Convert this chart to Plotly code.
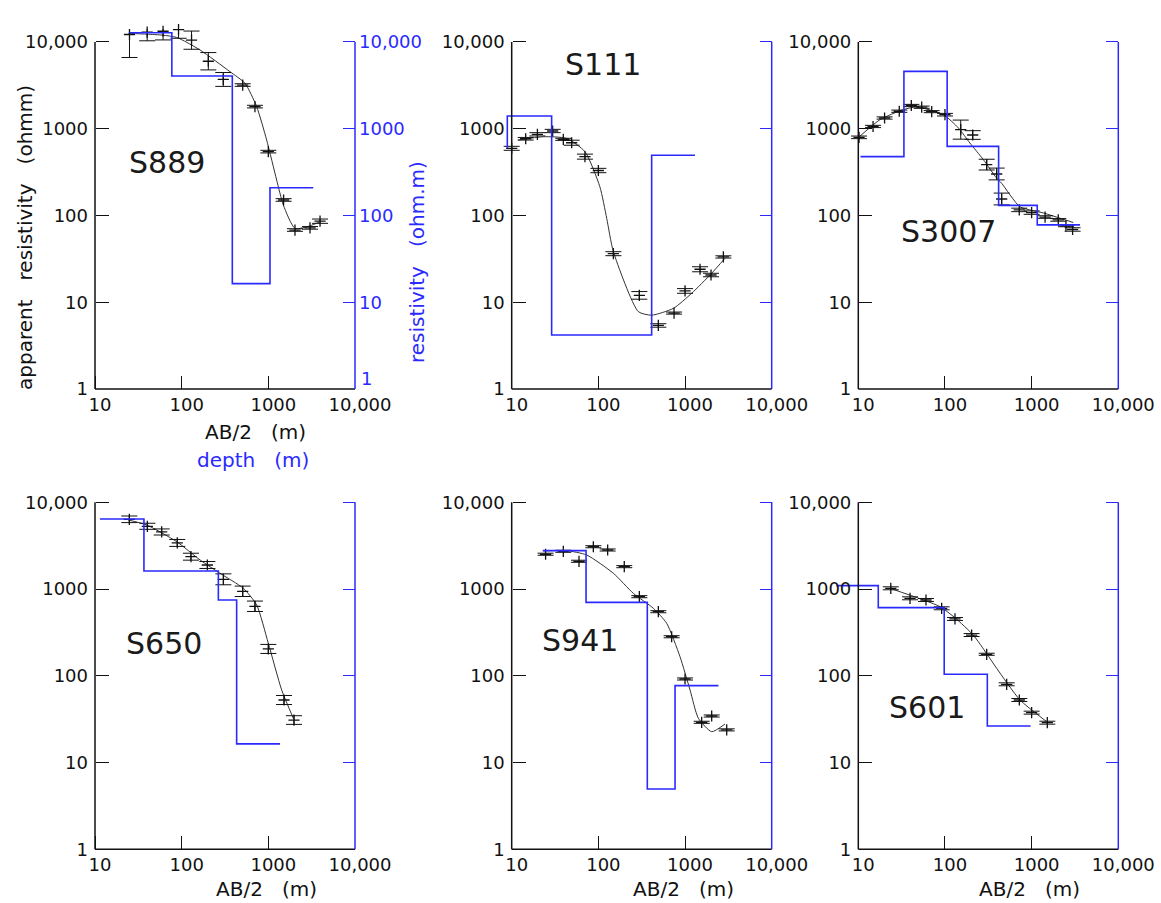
import plotly.graph_objects as go

# ---------------- data ----------------
names = ["S889", "S111", "S3007", "S650", "S941", "S601"]

# measured apparent resistivity: AB/2 (m), rho (ohmm), log10 half-width of error bar
s889_ab = [25, 40, 61, 92, 130, 203, 302, 506, 701, 1000, 1500, 2030, 3025, 3950]
s889_rho = [12200, 13000, 13300, 13900, 10500, 6000, 3700, 3190, 1800, 545, 151, 68, 72, 86]
s889_err = [0.265, 0.10, 0.10, 0.10, 0.105, 0.10, 0.08, 0.015, 0.015, 0.015, 0.015, 0.015, 0.015, 0.025]

s111_ab = [10, 14.5, 19.8, 29.7, 39.4, 49.2, 70, 100, 149, 297, 492, 747, 1000, 1490, 1995, 2770]
s111_rho = [595, 767, 863, 942, 755, 690, 477, 330, 36.3, 12.0, 5.4, 7.5, 13.5, 24, 20.6, 33.3]
s111_err = [0.023, 0.015, 0.019, 0.019, 0.012, 0.029, 0.029, 0.025, 0.023, 0.044, 0.02, 0.012, 0.027, 0.029, 0.02, 0.013]

s3007_ab = [10.2, 14.8, 20.1, 29.7, 40.9, 53.9, 70.3, 100, 152, 209, 303, 395, 451, 720, 1000, 1430, 2030, 2490, 2970]
s3007_rho = [796, 1062, 1330, 1592, 1853, 1771, 1574, 1452, 977, 847, 386, 301, 155, 116, 108, 96, 89, 76, 69]
s3007_err = [0.015, 0.013, 0.013, 0.013, 0.013, 0.013, 0.012, 0.015, 0.11, 0.05, 0.062, 0.068, 0.068, 0.02, 0.02, 0.015, 0.015, 0.01, 0.02]

s650_ab = [24.9, 40.2, 58.8, 89, 128, 198, 303, 506, 701, 1000, 1517, 1977]
s650_rho = [6370, 5290, 4550, 3400, 2360, 1893, 1295, 942, 633, 204, 52.6, 30.9]
s650_err = [0.038, 0.035, 0.035, 0.04, 0.04, 0.04, 0.063, 0.06, 0.06, 0.052, 0.052, 0.05]

s941_ab = [24.6, 39.4, 59.8, 87.5, 128, 199, 297, 492, 701, 1000, 1556, 2030, 3025]
s941_rho = [2520, 2725, 2090, 3075, 2820, 1812, 817, 548, 282, 91.9, 29.1, 34.4, 23.8]
s941_err = [0.012, 0.012, 0.012, 0.012, 0.012, 0.012, 0.012, 0.012, 0.012, 0.012, 0.012, 0.012, 0.012]

s601_ab = [23.7, 39.5, 60.4, 91.6, 130.5, 203, 303, 515, 721, 1000, 1517]
s601_rho = [1020, 782, 748, 600, 452, 295, 177, 79.8, 52.6, 37.6, 28.8]
s601_err = [0.017, 0.017, 0.017, 0.017, 0.017, 0.017, 0.012, 0.017, 0.017, 0.017, 0.017]

# model response curves (AB/2, apparent resistivity)
s889_fit_x = [24.3, 40, 60, 87.5, 163, 361, 538, 733, 957, 1248, 1490, 2030, 3025, 3950]
s889_fit_y = [12600, 12300, 12000, 11300, 8090, 4550, 3340, 1800, 741, 256, 132, 71, 76, 85]
s111_fit_x = [11.9, 23.2, 43, 70, 104, 125, 149, 289, 412, 733, 1194, 2030, 2890]
s111_fit_y = [741, 809, 774, 545, 215, 92, 38.3, 7.8, 7.1, 8.5, 12.7, 21.6, 32.1]
s3007_fit_x = [10.4, 17.8, 33, 47, 96, 143, 194, 277, 394, 451, 735, 1364, 3025]
s3007_fit_y = [818, 1273, 1660, 1782, 1452, 1020, 685, 441, 270, 235, 126, 107, 83]
s650_fit_x = [24.2, 39.4, 87.5, 163, 277, 515, 733, 1000, 1425, 1942]
s650_fit_y = [6250, 5480, 3520, 2165, 1520, 1020, 656, 237, 68.7, 32.4]
s941_fit_x = [23.2, 43, 73.3, 149, 253, 431, 614, 875, 1142, 1425, 2030, 2895]
s941_fit_y = [2750, 2770, 2470, 1520, 893, 600, 403, 166, 68.7, 32.4, 22.7, 27.8]
s601_fit_x = [23.2, 53.8, 87.7, 131, 212, 303, 395, 735, 1493]
s601_fit_y = [1020, 762, 627, 465, 295, 180, 122, 52.6, 29.6]

# layered models: layer boundaries depth (m) and layer resistivity (ohm.m)
s889_depth = [25, 77, 384, 1045, 3300]
s889_res = [12800, 4050, 16.4, 209]
s111_depth = [8.9, 8.9, 28.9, 412, 1303]
s111_res = [596, 1403, 4.2, 494]
s3007_depth = [10.6, 33.6, 106, 416, 1161, 3614]
s3007_res = [477, 4590, 627, 131, 78]
s650_depth = [11.4, 36.7, 265, 431, 1364]
s650_res = [6430, 1614, 748, 16.4]
s941_depth = [22.8, 72.1, 367, 767, 2427]
s941_res = [2775, 703, 4.96, 77]
s601_depth = [5.6, 17, 98, 308, 973]
s601_res = [1094, 611, 104, 26.4]

x_tickvals = [10, 100, 1000, 10000]
x_ticktext = ["10", "100", "1000", "10,000"]
y_tickvals = [1, 10, 100, 1000, 10000]
y_ticktext = ["1", "10", "100", "1000", "10,000"]
# right (blue) axis of the first panel: its "1" label sits a little higher, drawn separately
yb_ticktext = ["", "10", "100", "1000", "10,000"]
yb_low_label = "1"

panels = [
    (s889_ab, s889_rho, s889_err, s889_fit_x, s889_fit_y, s889_depth, s889_res),
    (s111_ab, s111_rho, s111_err, s111_fit_x, s111_fit_y, s111_depth, s111_res),
    (s3007_ab, s3007_rho, s3007_err, s3007_fit_x, s3007_fit_y, s3007_depth, s3007_res),
    (s650_ab, s650_rho, s650_err, s650_fit_x, s650_fit_y, s650_depth, s650_res),
    (s941_ab, s941_rho, s941_err, s941_fit_x, s941_fit_y, s941_depth, s941_res),
    (s601_ab, s601_rho, s601_err, s601_fit_x, s601_fit_y, s601_depth, s601_res),
]

# ---------------- layout geometry (pixels) ----------------
W, H = 1161, 903
PW, PH = 260, 347          # size of the 10..10^4 x 1..10^4 box
TOP_EXT = 0.15             # extra decades of headroom above 10,000 (axis lines stop at 10,000)
LEFT_EXT = 0.3             # extra decades left of 10 (lines may run past the left axis)
EXT_T = PH / 4 * TOP_EXT
EXT_L = PW / 3 * LEFT_EXT
origins = [(95, 42), (511.7, 42), (858.3, 42), (95, 502.3), (511.7, 502.3), (858.3, 502.3)]
label_pos = [(167, 162), (603, 65), (948, 232), (164, 643), (580, 640), (927, 707)]

FONT = "DejaVu Sans"
BLUE = "#2a2aff"
INK = "#111111"
TICKSIZE = 18
TITLESIZE = 20


def fx(p):
    return p / W


def fy(p):
    return 1 - p / H


fig = go.Figure()
layout = dict(
    width=W, height=H, autosize=False,
    margin=dict(l=0, r=0, t=0, b=0, pad=0, autoexpand=False),
    paper_bgcolor="white", plot_bgcolor="rgba(0,0,0,0)",
    showlegend=False, font=dict(family=FONT, size=17, color=INK),
)
shapes = []

for i, (ab, rho, err, fxs, fys, depth, res) in enumerate(panels):
    n = i + 1
    xa = "x" if n == 1 else f"x{n}"
    ya = "y" if n == 1 else f"y{n}"
    yb = f"y{n + 6}"
    x0, y0 = origins[i]

    plus = [r * (10 ** e - 1) for r, e in zip(rho, err)]
    minus = [r * (1 - 10 ** (-e)) for r, e in zip(rho, err)]

    fig.add_trace(go.Scatter(
        x=fxs, y=fys, mode="lines", xaxis=xa, yaxis=ya,
        line=dict(color="#333333", width=1, shape="spline", smoothing=0.6),
        hoverinfo="skip"))
    fig.add_trace(go.Scatter(
        x=ab, y=rho, mode="markers", xaxis=xa, yaxis=ya, cliponaxis=False,
        marker=dict(symbol="cross-thin", size=8, line=dict(color=INK, width=1.3), color=INK),
        error_y=dict(type="data", symmetric=False, array=plus, arrayminus=minus,
                     color=INK, thickness=1, width=8)))
    step_y = list(res) + [res[-1]]
    fig.add_trace(go.Scatter(
        x=depth, y=step_y, mode="lines", xaxis=xa, yaxis=yb,
        line=dict(color=BLUE, width=1.6, shape="hv"), hoverinfo="skip"))

    xkey = "xaxis" if n == 1 else f"xaxis{n}"
    ykey = "yaxis" if n == 1 else f"yaxis{n}"
    ybkey = f"yaxis{n + 6}"
    dom_x = [fx(x0 - EXT_L), fx(x0 + PW)]
    dom_y = [fy(y0 + PH), fy(y0 - EXT_T)]
    yrange = [0, 4 + TOP_EXT]
    layout[xkey] = dict(
        type="log", range=[1 - LEFT_EXT, 4], domain=dom_x, anchor=ya, automargin=False,
        showline=False, showgrid=False, zeroline=False,
        ticks="inside", ticklen=13, tickwidth=1.3, tickcolor=INK,
        tickvals=x_tickvals, ticktext=x_ticktext, ticklabelstandoff=3, ticklabelshift=5,
        tickfont=dict(family=FONT, size=TICKSIZE, color=INK))
    layout[ykey] = dict(
        type="log", range=yrange, domain=dom_y, anchor="free", position=fx(x0),
        automargin=False, showline=False, showgrid=False, zeroline=False,
        ticks="inside", ticklen=13, tickwidth=1.3, tickcolor=INK,
        tickvals=y_tickvals, ticktext=y_ticktext, ticklabelstandoff=7,
        tickfont=dict(family=FONT, size=TICKSIZE, color=INK))
    layout[ybkey] = dict(
        type="log", range=yrange, overlaying=ya, anchor="free", position=fx(x0 + PW),
        side="right", automargin=False, showline=False, showgrid=False, zeroline=False,
        ticks="inside", ticklen=12, tickwidth=1.3, tickcolor=BLUE,
        tickvals=y_tickvals, ticktext=yb_ticktext, showticklabels=(n == 1),
        ticklabelstandoff=3, tickfont=dict(family=FONT, size=TICKSIZE, color=BLUE))
    # axis lines: bottom and left black, right blue, open top (stops at 10,000)
    shapes.append(dict(type="line", xref="paper", yref="paper",
                       x0=fx(x0), x1=fx(x0 + PW), y0=fy(y0 + PH), y1=fy(y0 + PH),
                       line=dict(color=INK, width=1.5)))
    shapes.append(dict(type="line", xref="paper", yref="paper",
                       x0=fx(x0), x1=fx(x0), y0=fy(y0 + PH), y1=fy(y0),
                       line=dict(color=INK, width=1.5)))
    shapes.append(dict(type="line", xref="paper", yref="paper",
                       x0=fx(x0 + PW), x1=fx(x0 + PW), y0=fy(y0 + PH), y1=fy(y0),
                       line=dict(color=BLUE, width=1.5)))

annotations = []
for i, name in enumerate(names):
    lx, ly = label_pos[i]
    annotations.append(dict(text=name, x=fx(lx), y=fy(ly), xref="paper", yref="paper",
                            showarrow=False, xanchor="center", yanchor="middle",
                            font=dict(family=FONT, size=30, color="#1a1a1a")))


def title(text, x, y, color=INK, angle=0):
    return dict(text=text, x=fx(x), y=fy(y), textangle=angle, xref="paper", yref="paper",
                showarrow=False, xanchor="center", yanchor="middle",
                font=dict(family=FONT, size=TITLESIZE, color=color))


annotations += [
    title("apparent   resistivity   (ohmm)", 25, 238, INK, -90),
    title("resistivity   (ohm.m)", 417, 262, BLUE, -90),
    title("AB/2   (m)", 255, 432),
    title("depth   (m)", 253, 460, BLUE),
    title("AB/2   (m)", 266, 889),
    title("AB/2   (m)", 683, 889),
    title("AB/2   (m)", 1029, 889),
    dict(text=yb_low_label, x=fx(origins[0][0] + PW + 4), y=fy(378), xref="paper", yref="paper",
         showarrow=False, xanchor="left", yanchor="middle",
         font=dict(family=FONT, size=TICKSIZE, color=BLUE)),
]
layout["annotations"] = annotations
layout["shapes"] = shapes

fig.update_layout(**layout)
fig.write_html("out.html", post_script="document.body.style.margin='0';",
               config={"displayModeBar": False})
